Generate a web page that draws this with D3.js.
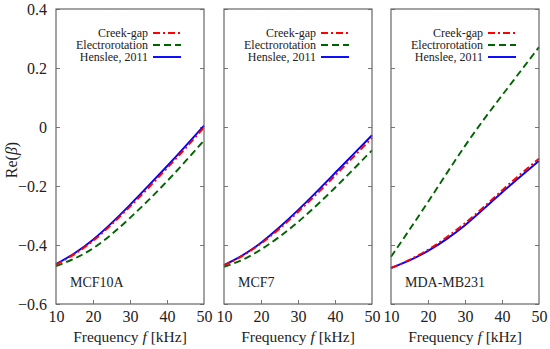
<!DOCTYPE html>
<html lang="en">
<head>
  <meta charset="UTF-8">
  <title>Re(beta) vs frequency</title>
  <script src="https://d3js.org/d3.v7.min.js"></script>
  <style>
    body { margin: 0; background: #fff; }
    svg text { font-family: "Times New Roman", Times, "Liberation Serif", "Nimbus Roman", serif !important; fill: #222; }
  </style>
</head>
<body>
  <svg id="chart" width="550" height="349"></svg>
  <script>
    // frequencies in kHz
    const freq = [10, 15, 20, 25, 30, 35, 40, 45, 50];

    const cellLines = ['MCF10A', 'MCF7', 'MDA-MB231'];
    const seriesNames = ['Creek-gap', 'Electrorotation', 'Henslee, 2011'];

    // MCF10A
    const mcf10aCreek   = [-0.467, -0.431, -0.386, -0.331, -0.270, -0.206, -0.140, -0.072, -0.002];
    const mcf10aElectro = [-0.472, -0.446, -0.411, -0.364, -0.308, -0.248, -0.184, -0.116, -0.046];
    const mcf10aHenslee = [-0.465, -0.428, -0.382, -0.326, -0.264, -0.199, -0.133, -0.065, 0.005];

    // MCF7
    const mcf7Creek   = [-0.469, -0.437, -0.395, -0.345, -0.288, -0.228, -0.165, -0.101, -0.037];
    const mcf7Electro = [-0.474, -0.450, -0.415, -0.372, -0.322, -0.266, -0.206, -0.143, -0.079];
    const mcf7Henslee = [-0.468, -0.435, -0.392, -0.340, -0.282, -0.220, -0.156, -0.092, -0.028];

    // MDA-MB231
    const mdaCreek   = [-0.478, -0.450, -0.416, -0.374, -0.326, -0.272, -0.215, -0.160, -0.107];
    const mdaElectro = [-0.440, -0.348, -0.254, -0.158, -0.064, 0.024, 0.107, 0.189, 0.271];
    const mdaHenslee = [-0.478, -0.452, -0.420, -0.380, -0.333, -0.278, -0.222, -0.168, -0.115];

    const panelData = [
      [mcf10aCreek, mcf10aElectro, mcf10aHenslee],
      [mcf7Creek, mcf7Electro, mcf7Henslee],
      [mdaCreek, mdaElectro, mdaHenslee]
    ];

    const xTicks = [10, 20, 30, 40, 50];
    const yTicks = [-0.6, -0.4, -0.2, 0, 0.2, 0.4];

    const colors = ['#ff0000', '#006400', '#0000ff'];
    const dashes = ['7,3,2,3', '7,4', null];

    const svg = d3.select('#chart');
    const panelLeft = [56, 224, 391];
    const panelW = 148;
    const plotTop = 9, plotBottom = 304;

    const y = d3.scaleLinear().domain([-0.6, 0.4]).range([plotBottom, plotTop]);
    const fmt = d => d === 0 ? '0' : d3.format('.1f')(d).replace('-', '\u2212');

    panelLeft.forEach((left, p) => {
      const x = d3.scaleLinear().domain([10, 50]).range([left, left + panelW]);
      const g = svg.append('g');

      // inward ticks
      const tickLen = 4;
      g.append('g').attr('transform', `translate(${left},0)`)
        .call(d3.axisRight(y).tickValues(yTicks).tickSize(tickLen).tickFormat(''))
        .call(a => a.select('.domain').remove());
      g.append('g').attr('transform', `translate(${left + panelW},0)`)
        .call(d3.axisLeft(y).tickValues(yTicks).tickSize(tickLen).tickFormat(''))
        .call(a => a.select('.domain').remove());
      g.append('g').attr('transform', `translate(0,${plotBottom})`)
        .call(d3.axisTop(x).tickValues(xTicks.slice(1, -1)).tickSize(tickLen).tickFormat(''))
        .call(a => a.select('.domain').remove());
      g.selectAll('.tick line').attr('stroke', '#777').attr('stroke-width', 1);

      // x tick labels
      g.append('g').attr('transform', `translate(0,${plotBottom})`)
        .call(d3.axisBottom(x).tickValues(xTicks).tickSize(0).tickPadding(7))
        .call(a => a.select('.domain').remove())
        .call(a => a.selectAll('text').style('font-size', '16px').attr('fill', '#222'));

      // y tick labels on first panel only
      if (p === 0) {
        g.append('g').attr('transform', `translate(${left},0)`)
          .call(d3.axisLeft(y).tickValues(yTicks).tickSize(0).tickPadding(9).tickFormat(fmt))
          .call(a => a.select('.domain').remove())
          .call(a => a.selectAll('text').style('font-size', '16px').attr('fill', '#222'));
      }

      // curves
      const line = d3.line()
        .x((d, i) => x(freq[i]))
        .y(d => y(d))
        .curve(d3.curveNatural);
      [1, 2, 0].forEach(s => {
        g.append('path')
          .datum(panelData[p][s])
          .attr('d', line)
          .attr('fill', 'none')
          .attr('stroke', colors[s])
          .attr('stroke-width', 1.9)
          .attr('stroke-dasharray', dashes[s]);
      });

      // frame
      g.append('rect')
        .attr('x', left).attr('y', plotTop)
        .attr('width', panelW).attr('height', plotBottom - plotTop)
        .attr('fill', 'none').attr('stroke', '#666').attr('stroke-width', 1.2);

      // legend
      const lineX1 = left + panelW - 51, lineX2 = left + panelW - 23;
      seriesNames.forEach((name, s) => {
        const ly = 33 + s * 12;
        g.append('text')
          .attr('x', lineX1 - 5).attr('y', ly + 4)
          .attr('text-anchor', 'end')
          .style('font-size', '12px')
          .text(name);
        g.append('line')
          .attr('x1', lineX1).attr('x2', lineX2)
          .attr('y1', ly).attr('y2', ly)
          .attr('stroke', colors[s])
          .attr('stroke-width', 1.9)
          .attr('stroke-dasharray', dashes[s]);
      });

      // cell line label
      g.append('text')
        .attr('x', left + 14).attr('y', 287)
        .style('font-size', '14px')
        .text(cellLines[p]);

      // x title
      const t = g.append('text')
        .attr('x', left + panelW / 2).attr('y', 342)
        .attr('text-anchor', 'middle')
        .style('font-size', '15.5px');
      t.append('tspan').text('Frequency ');
      t.append('tspan').style('font-style', 'italic').text('f');
      t.append('tspan').text(' [kHz]');
    });

    // y title
    const yt = svg.append('text')
      .attr('transform', 'translate(17,160) rotate(-90)')
      .attr('text-anchor', 'middle')
      .style('font-size', '16px');
    yt.append('tspan').text('Re(');
    yt.append('tspan').style('font-style', 'italic').text('\u03b2');
    yt.append('tspan').text(')');
  </script>
</body>
</html>
